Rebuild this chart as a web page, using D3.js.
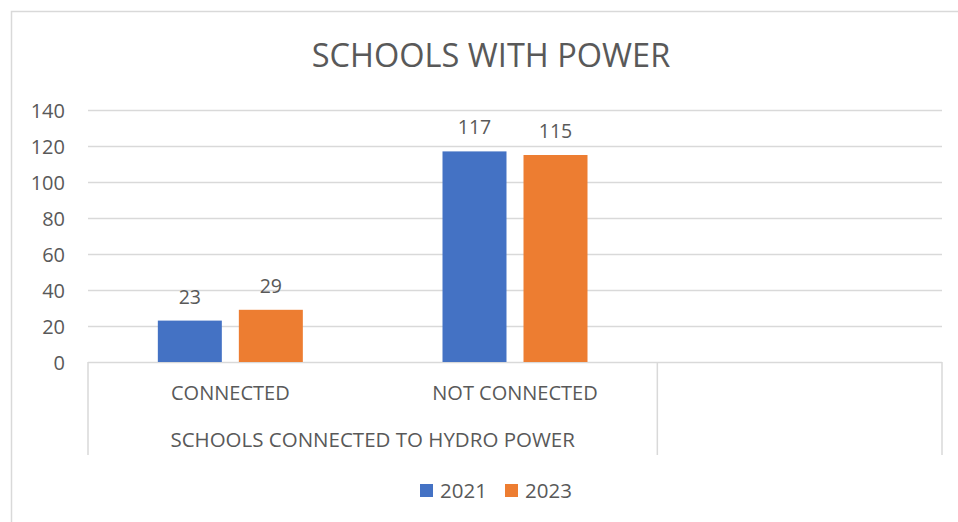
<!DOCTYPE html>
<html lang="en">
<head>
  <meta charset="UTF-8">
  <title>Schools With Power</title>
  <script src="https://cdn.jsdelivr.net/npm/d3@7"></script>
  <style>
    html, body { margin: 0; padding: 0; background: #fff; }
    svg { display: block; font-family: "Open Sans", sans-serif; }
    text { fill: #595959; }
  </style>
</head>
<body>
  <svg id="chart" width="958" height="522"></svg>

  <script>
    // data
    const categories = ["CONNECTED", "NOT CONNECTED", ""];
    const groupLabel = "SCHOOLS CONNECTED TO HYDRO POWER";
    const groupSpan  = ["CONNECTED", "NOT CONNECTED"];
    const seriesNames = ["2021", "2023"];
    const values2021 = [23, 117, null];
    const values2023 = [29, 115, null];
    const yTicks = [0, 20, 40, 60, 80, 100, 120, 140];
    const colors = ["#4472C4", "#ED7D31"];

    const series = [values2021, values2023];

    const svg = d3.select("#chart");
    const margin = { left: 88, right: 16, top: 110, bottom: 160 };
    const width = 958, height = 522;
    const plotBottom = height - margin.bottom;

    // outer frame
    svg.append("rect")
      .attr("x", 11.5).attr("y", 11.5)
      .attr("width", 960).attr("height", 520)
      .attr("fill", "none").attr("stroke", "#d9d9d9").attr("stroke-width", 1.5);

    svg.append("text")
      .attr("x", 491).attr("y", 67)
      .attr("text-anchor", "middle")
      .style("font-size", "32.5px")
      .text("SCHOOLS WITH POWER");

    const x0 = d3.scaleBand()
      .domain(categories)
      .range([margin.left, width - margin.right])
      .padding(0);

    const x1 = d3.scaleBand()
      .domain(seriesNames)
      .range([-72.5, 72.5])
      .paddingInner(0.21);

    const y = d3.scaleLinear()
      .domain([0, 140])
      .range([plotBottom, margin.top]);

    // gridlines
    svg.append("g")
      .selectAll("line")
      .data(yTicks)
      .join("line")
        .attr("x1", margin.left).attr("x2", width - margin.right)
        .attr("y1", d => Math.round(y(d)) + 0.5).attr("y2", d => Math.round(y(d)) + 0.5)
        .attr("stroke", "#d9d9d9").attr("stroke-width", 1.3);

    // y axis labels
    const yAxis = svg.append("g")
      .attr("transform", `translate(${margin.left - 23},0)`)
      .call(d3.axisLeft(y).tickValues(yTicks).tickSize(0).tickPadding(0));
    yAxis.select(".domain").remove();
    yAxis.selectAll("text")
      .style("font-size", "20px")
      .style("font-family", "Open Sans, sans-serif")
      .attr("fill", "#595959")
      .attr("dy", "0.36em");

    // bars
    const groups = svg.append("g")
      .selectAll("g")
      .data(categories)
      .join("g")
        .attr("transform", d => `translate(${x0(d) + x0.bandwidth() / 2},0)`);

    groups.each(function(cat, ci) {
      const g = d3.select(this);
      const rows = seriesNames
        .map((name, si) => ({ name, si, v: series[si][ci] }))
        .filter(r => r.v != null);

      g.selectAll("rect")
        .data(rows)
        .join("rect")
          .attr("x", r => x1(r.name))
          .attr("width", x1.bandwidth())
          .attr("y", r => y(r.v))
          .attr("height", r => y(0) - y(r.v))
          .attr("fill", r => colors[r.si]);

      g.selectAll("text")
        .data(rows)
        .join("text")
          .attr("x", r => x1(r.name) + x1.bandwidth() / 2)
          .attr("y", r => y(r.v) - 17)
          .attr("text-anchor", "middle")
          .style("font-size", "19.5px")
          .text(r => r.v);
    });

    // category axis (two levels)
    const axisG = svg.append("g").attr("stroke", "#d9d9d9").attr("stroke-width", 1.5);
    const boundaries = [margin.left, x0(categories[2]), width - margin.right];
    boundaries.forEach(bx => {
      axisG.append("line")
        .attr("x1", bx).attr("x2", bx)
        .attr("y1", plotBottom).attr("y2", plotBottom + 93);
    });

    svg.append("g")
      .selectAll("text")
      .data(categories.filter(c => c))
      .join("text")
        .attr("x", d => x0(d) + x0.bandwidth() / 2)
        .attr("y", plotBottom + 38)
        .attr("text-anchor", "middle")
        .style("font-size", "20px")
        .text(d => d);

    const gx0 = x0(groupSpan[0]);
    const gx1 = x0(groupSpan[groupSpan.length - 1]) + x0.bandwidth();
    svg.append("text")
      .attr("x", (gx0 + gx1) / 2)
      .attr("y", plotBottom + 85)
      .attr("text-anchor", "middle")
      .style("font-size", "20.5px")
      .text(groupLabel);

    // legend
    const legend = svg.append("g").attr("transform", "translate(420,484)");
    const legendX = [0, 85];
    seriesNames.forEach((name, i) => {
      legend.append("rect")
        .attr("x", legendX[i]).attr("y", 0)
        .attr("width", 13).attr("height", 13)
        .attr("fill", colors[i]);
      legend.append("text")
        .attr("x", legendX[i] + 20).attr("y", 14)
        .style("font-size", "20.5px")
        .text(name);
    });
  </script>
</body>
</html>
